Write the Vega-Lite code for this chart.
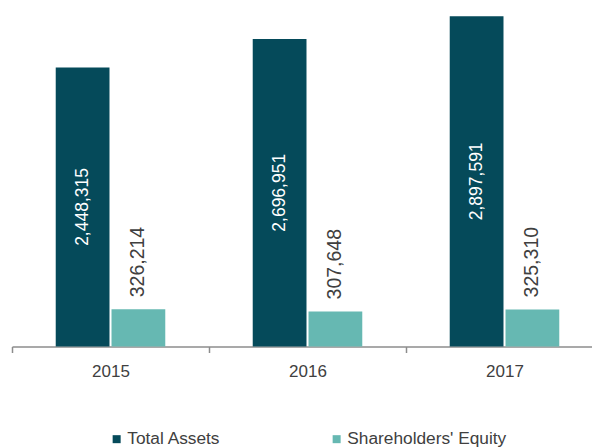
{
  "$schema": "https://vega.github.io/schema/vega-lite/v6.json",
  "autosize": {"type": "none"},
  "width": 591,
  "height": 342,
  "padding": {"left": 12, "top": 4.5, "right": 0, "bottom": 100.5},
  "background": "white",
  "config": {
    "view": {"stroke": null},
    "font": "Liberation Sans, Arial, sans-serif"
  },
  "data": {
    "values": [
      {"year": "2015", "series": "Total Assets", "value": 2448315},
      {"year": "2015", "series": "Shareholders' Equity", "value": 326214},
      {"year": "2016", "series": "Total Assets", "value": 2696951},
      {"year": "2016", "series": "Shareholders' Equity", "value": 307648},
      {"year": "2017", "series": "Total Assets", "value": 2897591},
      {"year": "2017", "series": "Shareholders' Equity", "value": 325310}
    ]
  },
  "encoding": {
    "x": {
      "field": "year", "type": "nominal",
      "scale": {"paddingInner": 0, "paddingOuter": 0},
      "axis": {
        "title": null, "labelAngle": 0, "tickBand": "extent",
        "domainColor": "#8c8c8c", "domainWidth": 1.5,
        "tickColor": "#8c8c8c", "tickWidth": 1.5, "tickSize": 6,
        "labelFontSize": 17, "labelColor": "#404040", "labelPadding": 11
      }
    },
    "xOffset": {
      "field": "series", "type": "nominal",
      "sort": ["Total Assets", "Shareholders' Equity"],
      "scale": {"paddingInner": 0.036, "paddingOuter": 0.784}
    }
  },
  "layer": [
    {
      "mark": {"type": "bar"},
      "encoding": {
        "y": {"field": "value", "type": "quantitative", "scale": {"domain": [0, 3000000]}, "axis": null},
        "color": {
          "field": "series", "type": "nominal",
          "sort": ["Total Assets", "Shareholders' Equity"],
          "scale": {"domain": ["Total Assets", "Shareholders' Equity"], "range": ["#054A5A", "#66B8B2"]},
          "legend": {
            "title": null, "orient": "none", "direction": "horizontal",
            "legendX": 96, "legendY": 426,
            "symbolType": "square", "symbolSize": 64, "symbolStrokeWidth": 0,
            "labelFontSize": 17.3, "labelColor": "#404040", "labelOffset": 2,
            "columnPadding": 107
          }
        }
      }
    },
    {
      "transform": [{"filter": "datum.series === \"Shareholders' Equity\""}],
      "mark": {"type": "text", "angle": 270, "align": "left", "baseline": "middle", "dx": 12, "fontSize": 19.5, "color": "#404040"},
      "encoding": {
        "y": {"field": "value", "type": "quantitative", "scale": {"domain": [0, 3000000]}, "axis": null},
        "text": {"field": "value", "type": "quantitative", "format": ","}
      }
    },
    {
      "transform": [{"filter": "datum.series === 'Total Assets'"}],
      "mark": {"type": "text", "angle": 270, "align": "center", "baseline": "middle", "fontSize": 17.5, "color": "white"},
      "encoding": {
        "y": {"field": "value", "type": "quantitative", "scale": {"domain": [0, 6000000]}, "axis": null},
        "text": {"field": "value", "type": "quantitative", "format": ","}
      }
    }
  ],
  "resolve": {"scale": {"y": "independent"}}
}
